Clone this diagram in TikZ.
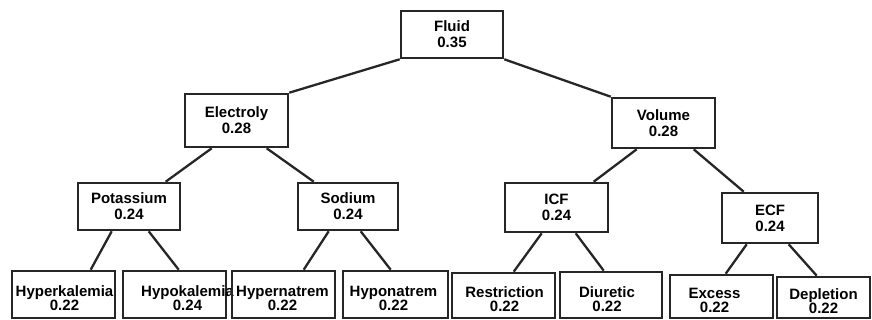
\documentclass[tikz,border=0pt]{standalone}
\usepackage{fontspec}
\setmainfont{Liberation Sans}
\usetikzlibrary{calc}
\begin{document}
\begin{tikzpicture}[x=1pt,y=-1pt,
  box/.style={draw=black!85,line width=2.6pt,inner sep=0pt,align=center,
    font=\bfseries\fontsize{15}{16}\selectfont},
  leafbox/.style={draw=black!85,line width=2.6pt,inner sep=0pt},
  lbl/.style={align=center,inner sep=0pt,font=\bfseries\fontsize{15}{14}\selectfont},
  edge/.style={draw=black!85,line width=2.3pt}]
\useasboundingbox (0,0) rectangle (872,320);
% helper: box from left,top to right,bottom
\newcommand{\mybox}[6]{%
  \node[box,minimum width={#3-#1},minimum height={#4-#2}] (#5) at ({(#1+#3)/2},{(#2+#4)/2}) {#6};}
\newcommand{\myleaf}[8]{%
  \node[leafbox,minimum width={#3-#1},minimum height={#4-#2},
    label={[lbl,name=#5t,xshift=#7,yshift=-4pt]center:#6}] (#5) at ({(#1+#3)/2},{(#2+#4)/2}) {};}
\mybox{401}{11}{503}{58}{F}{Fluid\\0.35}
\mybox{185}{94}{288}{147}{E}{Electroly\\0.28}
\mybox{612}{98}{715}{148}{V}{Volume\\0.28}
\mybox{78}{183}{180}{230}{P}{Potassium\\0.24}
\mybox{298}{183}{398}{230}{S}{Sodium\\0.24}
\mybox{505}{183}{608}{232}{I}{ICF\\0.24}
\mybox{722}{193}{818}{243}{X}{ECF\\0.24}
\myleaf{12}{271}{115}{318}{L1}{Hyperkalemia\\0.22}{1pt}{}
\myleaf{123}{271}{226}{318}{L2}{Hypokalemia\\0.24}{13pt}{}
\myleaf{232}{271}{335}{318}{L3}{Hypernatrem\\0.22}{-1pt}{}
\myleaf{343}{271}{448}{318}{L4}{Hyponatrem\\0.22}{-2pt}{}
\myleaf{452}{273}{555}{318}{L5}{Restriction\\0.22}{1pt}{}
\myleaf{560}{272}{662}{318}{L6}{Diuretic\\0.22}{-4pt}{}
\myleaf{670}{275}{773}{318}{L7}{Excess\\0.22}{-7pt}{}
\myleaf{777}{277}{870}{318}{L8}{Depletion\\0.22}{0pt}{}
% connectors
\draw[edge] (F.south west) -- (E.north east);
\draw[edge] (F.south east) -- (V.north west);
\draw[edge] ($(E.south west)+(28,0)$) -- ($(P.north west)+(89,0)$);
\draw[edge] ($(E.south west)+(83,0)$) -- ($(S.north west)+(17,0)$);
\draw[edge] ($(P.south west)+(35,0)$) -- ($(L1.north west)+(80,0)$);
\draw[edge] ($(P.south west)+(72,0)$) -- ($(L2.north west)+(57,0)$);
\draw[edge] ($(S.south west)+(32,0)$) -- ($(L3.north west)+(73,0)$);
\draw[edge] ($(S.south west)+(64,0)$) -- ($(L4.north west)+(49,0)$);
\draw[edge] ($(V.south west)+(26,0)$) -- ($(I.north west)+(90,0)$);
\draw[edge] ($(V.south west)+(83,0)$) -- ($(X.north west)+(23,0)$);
\draw[edge] ($(I.south west)+(38,0)$) -- ($(L5.north west)+(63,0)$);
\draw[edge] ($(I.south west)+(72,0)$) -- ($(L6.north west)+(45,0)$);
\draw[edge] ($(X.south west)+(26,0)$) -- ($(L7.north west)+(57,0)$);
\draw[edge] ($(X.south west)+(68,0)$) -- ($(L8.north west)+(41,0)$);
\end{tikzpicture}
\end{document}
